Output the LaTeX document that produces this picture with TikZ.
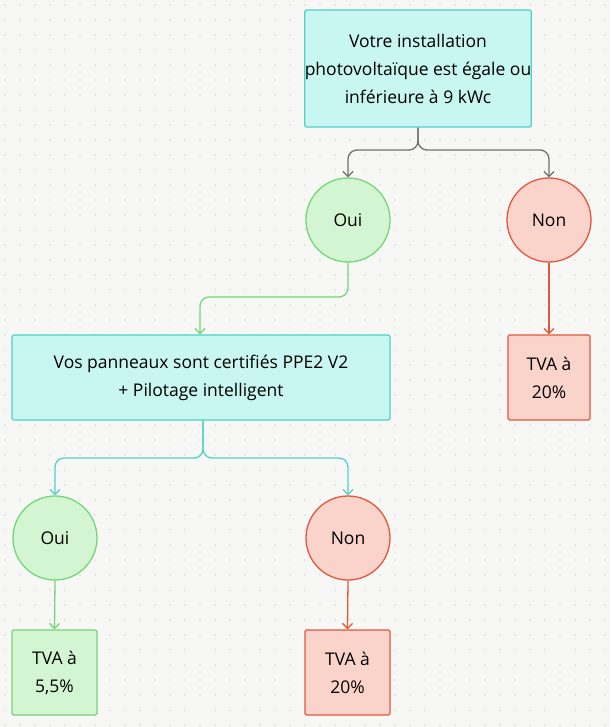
\documentclass[tikz,border=0pt]{standalone}
\usepackage{fontspec}
\setmainfont{Open Sans}
\usetikzlibrary{arrows.meta}
\definecolor{bg}{HTML}{F7F7F5}
\definecolor{cyf}{HTML}{C8F7F1}
\definecolor{cyd}{HTML}{4FD1C8}
\definecolor{grf}{HTML}{D4F5D2}
\definecolor{grd}{HTML}{74D677}
\definecolor{rdf}{HTML}{FAD3CB}
\definecolor{rdd}{HTML}{E4573C}
\definecolor{gyd}{HTML}{707070}
\tikzset{
 box/.style={draw=#1d, fill=#1f, line width=1.3pt, rounded corners=1.5pt, align=center, font=\fontsize{17.5}{28}\selectfont, inner sep=0pt},
 circ/.style={circle, draw=#1d, fill=#1f, line width=1.3pt, minimum size=84pt, inner sep=0pt, font=\fontsize{17.5}{20}\selectfont},
 conn/.style={draw=#1, line width=1.3pt, rounded corners=9pt, -{Straight Barb[length=5pt,width=10pt]}}
}
\begin{document}
\begin{tikzpicture}[x=1pt,y=-1pt]
\fill[bg] (0,0) rectangle (610,727);
\useasboundingbox (0,0) rectangle (610,727);
\foreach \i in {0,...,40}{\foreach \j in {0,...,48}{\fill[gray!60] (\i*15+5,\j*15+5) circle (0.65pt);}}
\node[box=cy, minimum width=224pt, minimum height=117pt] (q1) at (418,68.5) {Votre installation\\photovoltaïque est égale ou\\inférieure à 9 kWc};
\node[circ=gr] (o1) at (348,220) {Oui};
\node[circ=rd] (n1) at (549,220) {Non};
\node[box=rd, minimum width=82pt, minimum height=85pt] (t1) at (549,377.5) {TVA à\\20\%};
\node[box=cy, minimum width=378pt, minimum height=85pt] (q2) at (201,377.5) {Vos panneaux sont certifiés PPE2 V2\\+ Pilotage intelligent};
\node[circ=gr] (o2) at (55,538) {Oui};
\node[circ=rd] (n2) at (348,538) {Non};
\node[box=gr, minimum width=85pt, minimum height=85pt] (t2) at (54.5,672.5) {TVA à\\5,5\%};
\node[box=rd, minimum width=85pt, minimum height=85pt] (t3) at (347.5,672.5) {TVA à\\20\%};
\draw[conn=gyd] (q1.south) |- (383,150) -| (o1.north);
\draw[conn=gyd] (q1.south) |- (483,150) -| (n1.north);
\draw[conn=rdd] (n1.south) -- (t1.north);
\draw[conn=grd] (o1.south) |- (200,297) -- (q2.north -| 200,0);
\draw[conn=cyd] (q2.south -| 203,0) |- (130,458) -| (o2.north);
\draw[conn=cyd] (q2.south -| 203,0) |- (275,458) -| (n2.north);
\draw[conn=grd] (o2.south) -- (t2.north);
\draw[conn=rdd] (n2.south) -- (t3.north);
\end{tikzpicture}
\end{document}
